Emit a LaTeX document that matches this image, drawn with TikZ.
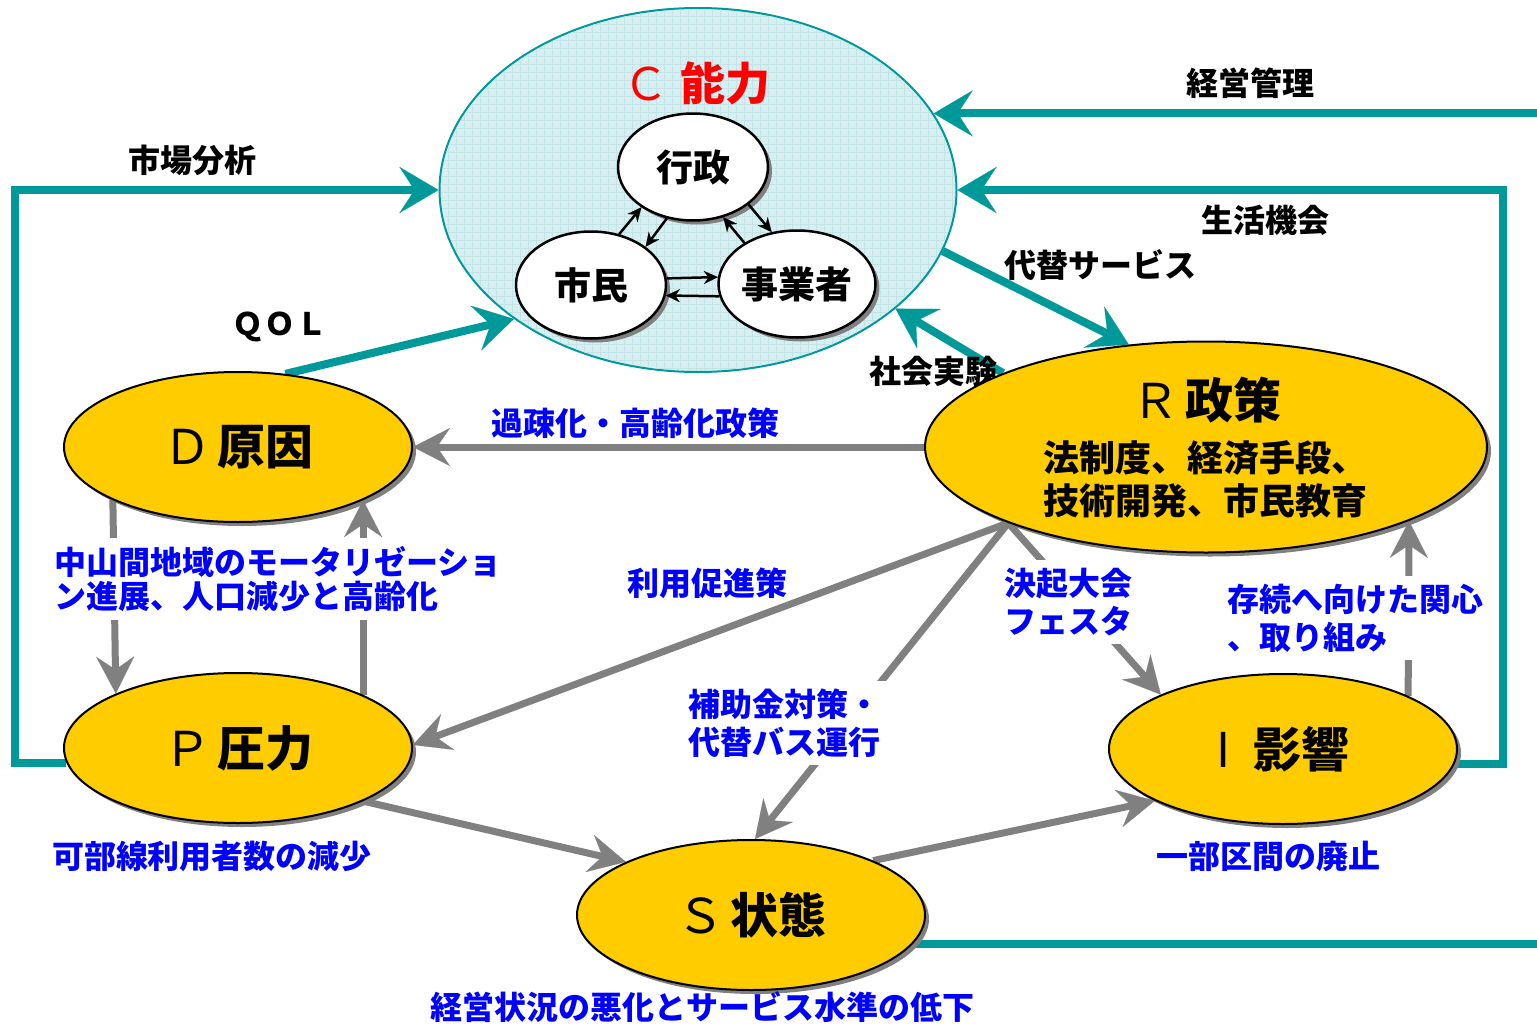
\documentclass[tikz,border=0pt]{standalone}
\usepackage{fontspec}
\setmainfont{Noto Sans CJK JP}
\usetikzlibrary{arrows.meta,shapes.geometric,shadows,calc}
\definecolor{tealc}{HTML}{009999}
\definecolor{grayc}{HTML}{808080}
\definecolor{yel}{HTML}{FFCC00}
\definecolor{cfill}{HTML}{D8EFF1}
\definecolor{cgrid}{HTML}{C2E4E7}
\definecolor{blu}{HTML}{0000FF}
\definecolor{redc}{HTML}{FF0000}
\pgfdeclarelayer{background}
\pgfsetlayers{background,main}
\tikzset{
  tealarrow/.style={draw=tealc, line width=8pt, -{Stealth[length=39pt,width=46pt,inset=15pt,line width=0.1pt]}},
  tealline/.style={draw=tealc, line width=8pt},
  grayarrow/.style={draw=grayc, line width=7pt, -{Stealth[length=37pt,width=38pt,inset=13pt,line width=0.1pt]}},
  smallarrow/.style={draw=black, line width=2.5pt, -{Stealth[length=14pt,width=13pt,line width=0.1pt]}},
  shade/.style={drop shadow={shadow xshift=4pt, shadow yshift=-4pt, fill=grayc, opacity=1}},
  bignode/.style={ellipse, draw=black, line width=2pt, fill=yel, minimum width=348pt, minimum height=150pt, inner sep=0pt, shade, font=\fontsize{48}{52}\selectfont},
  actor/.style={ellipse, draw=black, line width=2.5pt, fill=white, minimum width=150pt, minimum height=107pt, inner sep=0pt, shade, font=\fontsize{37}{40}\selectfont\bfseries},
  blabel/.style={text=black, font=\fontsize{32}{38}\selectfont\bfseries, inner sep=0pt},
  bluelabel/.style={text=blu, font=\fontsize{32}{38}\selectfont\bfseries, inner sep=0pt},
  cover/.style={fill=white, inner sep=8pt},
}
\begin{document}
\begin{tikzpicture}[x=1pt,y=-1pt]
\useasboundingbox (0,0) rectangle (1537,1025);
\begin{pgfonlayer}{background}
  \fill[white] (0,0) rectangle (1537,1025);
\end{pgfonlayer}

% C capacity ellipse
\node[ellipse, draw=tealc, line width=2pt, fill=cfill, minimum width=517pt, minimum height=364pt, inner sep=0pt] (C) at (698,190) {};
\begin{scope}
  \clip (698,190) ellipse [x radius=257pt, y radius=181pt];
  \draw[cgrid, line width=0.6pt, step=8pt] (430,0) grid (970,380);
\end{scope}
\node[text=redc, font=\fontsize{45}{50}\selectfont, inner sep=0pt] (Ctitle) at (697,83) {Ｃ\hspace{12pt}{\bfseries 能力}};

% actors
\node[actor] (gov) at (693,167) {行政};
\node[actor] (cit) at (591,285) {市民};
\node[actor] (biz) at (797,284) {事業者};

\draw[smallarrow] (cit.61) -- (gov.-142);
\draw[smallarrow] (gov.-117) -- (cit.35);
\draw[smallarrow] (biz.142.6) -- (gov.-59);
\draw[smallarrow] (gov.-34) -- (biz.116);
\draw[smallarrow] (cit.5) -- (biz.175.5);
\draw[smallarrow] (biz.-171) -- (cit.-8);

% main nodes
\node[bignode] (D) at (238,447) {Ｄ\hspace{6pt}{\bfseries 原因}};
\node[bignode] (P) at (238,748) {Ｐ\hspace{6pt}{\bfseries 圧力}};
\node[bignode] (S) at (751,915) {Ｓ\hspace{6pt}{\bfseries 状態}};
\node[bignode] (I) at (1283,749) {I\hspace{22pt}{\bfseries 影響}};
\node[bignode, minimum width=562pt, minimum height=211pt] (R) at (1206,447) {};
\node[font=\fontsize{48}{52}\selectfont, inner sep=0pt] (Rtitle) at (1206,400) {Ｒ\hspace{6pt}{\bfseries 政策}};
\node[font=\fontsize{36}{43}\selectfont\bfseries, align=center, inner sep=0pt] (Rbody) at (1205,479) {法制度、経済手段、\\技術開発、市民教育};

% connectors
\begin{pgfonlayer}{background}
  \coordinate (edgeR) at (1537,0);
  \coordinate (leftX) at (15,0);
  \coordinate (rightX) at (1503,0);
  \draw[tealarrow] (C.18.4 -| edgeR) -- (C.18.4);
  \draw[tealarrow] (I.-5) -- (I.-5 -| rightX) -- (rightX |- C.east) -- (C.east);
  \draw[tealarrow] (P.185) -- (P.185 -| leftX) -- (leftX |- C.west) -- (C.west);
  \draw[tealarrow] (D.57) -- (C.215);
  \draw[tealarrow] (C.-14) -- (R.127);
  \draw[tealarrow] (R.160) -- (C.-31.5);
  \draw[tealline] (S.-10) -- (S.-10 -| edgeR);

  \draw[grayarrow] (R.west) -- (D.east);
  \draw[grayarrow] (D.203.3) -- (P.156.7);
  \draw[grayarrow] (P.23.7) -- (D.-23.7);
  \draw[grayarrow] (R.201) -- (P.1);
  \draw[grayarrow] (R.201) -- (S.87);
  \draw[grayarrow] (R.201) -- (I.156);
  \draw[grayarrow] (I.23) -- (R.-20.5);
  \draw[grayarrow] (P.-23) -- (S.157);
  \draw[grayarrow] (S.24) -- (I.202);

  \node[blabel] (lsoc) at (933,371) {社会実験};
\end{pgfonlayer}

% black labels
\node[blabel] (lkei) at (1250,83) {経営管理};
\node[blabel] (lsei) at (1265,220) {生活機会};
\node[blabel] (ldai) at (1100,265) {代替サービス};
\node[blabel] (lshi) at (192,160) {市場分析};
\node[blabel, font=\fontsize{31}{36}\selectfont\bfseries] (lqol) at (280,327) {Ｑ\hspace{1pt}Ｏ\hspace{1pt}Ｌ};

% blue labels
\node[bluelabel, cover, align=left, anchor=west, font=\fontsize{32}{34}\selectfont\bfseries] (l2) at (46,579) {中山間地域のモータリゼーショ\\ン進展、人口減少と高齢化};
\node[bluelabel] (l1) at (635,423) {過疎化・高齢化政策};
\node[bluelabel] (l3) at (707,583) {利用促進策};
\node[bluelabel, cover, align=left] (l4) at (784,723) {補助金対策・\\代替バス運行};
\node[bluelabel, cover, align=left] (l5) at (1068,602) {決起大会\\フェスタ};
\node[bluelabel, cover, align=left] (l6) at (1355,618) {存続へ向けた関心\\、取り組み};
\node[bluelabel] (l7) at (212,856) {可部線利用者数の減少};
\node[bluelabel] (l8) at (1268,856) {一部区間の廃止};
\node[bluelabel] (l9) at (702,1007) {経営状況の悪化とサービス水準の低下};
\end{tikzpicture}
\end{document}
